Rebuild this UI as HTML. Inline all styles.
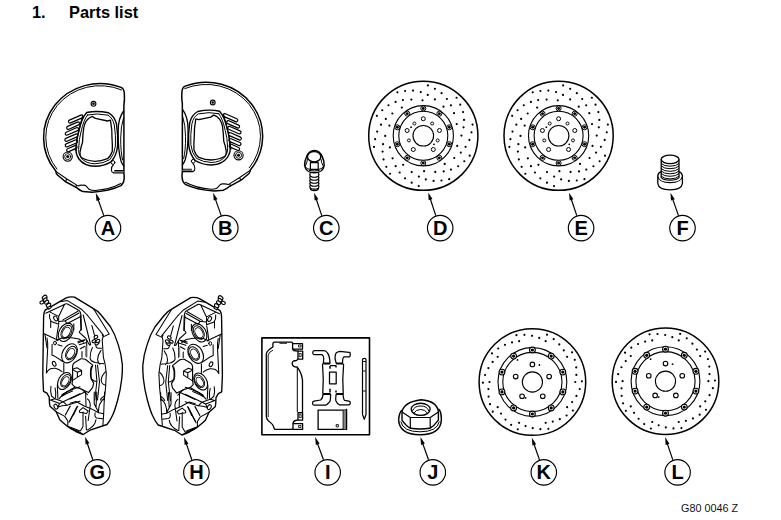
<!DOCTYPE html>
<html><head><meta charset="utf-8">
<style>
html,body{margin:0;padding:0;background:#fff;width:781px;height:520px;overflow:hidden;}
body{position:relative;font-family:"Liberation Sans",sans-serif;color:#000;}
.t{position:absolute;font-weight:bold;font-size:16.4px;line-height:1;white-space:nowrap;}
.code{position:absolute;font-size:10.8px;line-height:1;white-space:nowrap;color:#111;}
svg{position:absolute;left:0;top:0;}
</style></head><body>
<div class="t" style="left:32px;top:4px;">1.</div>
<div class="t" style="left:69px;top:4px;">Parts list</div>
<div class="code" style="left:681px;top:502.5px;">G80 0046 Z</div>
<svg width="781" height="520" viewBox="0 0 781 520">
<g fill="none" stroke="#000" stroke-width="1.15">
<circle cx="108" cy="228.1" r="12.75"/>
<circle cx="225.3" cy="228.1" r="12.75"/>
<circle cx="326.3" cy="228.1" r="12.75"/>
<circle cx="440.2" cy="228.1" r="12.75"/>
<circle cx="581.1" cy="228.1" r="12.75"/>
<circle cx="682.5" cy="228.1" r="12.75"/>
<circle cx="97.3" cy="472.4" r="12.75"/>
<circle cx="196.4" cy="472.4" r="12.75"/>
<circle cx="327.7" cy="472.3" r="12.75"/>
<circle cx="432.8" cy="472.3" r="12.75"/>
<circle cx="543.8" cy="472.3" r="12.75"/>
<circle cx="677.6" cy="472.3" r="12.75"/>
</g>
<g font-family="Liberation Sans" font-weight="bold" font-size="20" text-anchor="middle">
<text x="108" y="235.0">A</text>
<text x="225.3" y="235.0">B</text>
<text x="326.3" y="235.0">C</text>
<text x="440.2" y="235.0">D</text>
<text x="581.1" y="235.0">E</text>
<text x="682.5" y="235.0">F</text>
<text x="97.3" y="479.3">G</text>
<text x="196.4" y="479.3">H</text>
<text x="327.7" y="479.2">I</text>
<text x="432.8" y="479.2">J</text>
<text x="543.8" y="479.2">K</text>
<text x="677.6" y="479.2">L</text>
</g>
<line x1="103.80" y1="215.60" x2="98.01" y2="199.32" stroke="#000" stroke-width="1.2"/><path d="M95.80,193.10L100.23,199.59L96.46,200.93Z" fill="#000"/>
<line x1="221.20" y1="215.60" x2="215.30" y2="198.92" stroke="#000" stroke-width="1.2"/><path d="M213.10,192.70L217.52,199.20L213.75,200.53Z" fill="#000"/>
<line x1="321.80" y1="215.60" x2="316.20" y2="198.96" stroke="#000" stroke-width="1.2"/><path d="M314.10,192.70L318.42,199.27L314.63,200.54Z" fill="#000"/>
<line x1="435.80" y1="215.60" x2="430.26" y2="198.77" stroke="#000" stroke-width="1.2"/><path d="M428.20,192.50L432.48,199.09L428.68,200.34Z" fill="#000"/>
<line x1="576.80" y1="215.60" x2="571.20" y2="198.96" stroke="#000" stroke-width="1.2"/><path d="M569.10,192.70L573.42,199.27L569.63,200.54Z" fill="#000"/>
<line x1="678.50" y1="215.60" x2="672.60" y2="198.92" stroke="#000" stroke-width="1.2"/><path d="M670.40,192.70L674.82,199.20L671.05,200.53Z" fill="#000"/>
<line x1="92.80" y1="459.80" x2="87.19" y2="442.96" stroke="#000" stroke-width="1.2"/><path d="M85.10,436.70L89.40,443.28L85.61,444.54Z" fill="#000"/>
<line x1="191.80" y1="459.80" x2="186.22" y2="443.35" stroke="#000" stroke-width="1.2"/><path d="M184.10,437.10L188.44,443.65L184.65,444.94Z" fill="#000"/>
<line x1="323.50" y1="459.80" x2="317.39" y2="443.29" stroke="#000" stroke-width="1.2"/><path d="M315.10,437.10L319.61,443.53L315.86,444.92Z" fill="#000"/>
<line x1="428.50" y1="459.80" x2="422.62" y2="443.32" stroke="#000" stroke-width="1.2"/><path d="M420.40,437.10L424.84,443.59L421.07,444.93Z" fill="#000"/>
<line x1="539.50" y1="459.90" x2="533.96" y2="443.94" stroke="#000" stroke-width="1.2"/><path d="M531.80,437.70L536.18,444.22L532.40,445.54Z" fill="#000"/>
<line x1="672.80" y1="459.90" x2="667.21" y2="443.35" stroke="#000" stroke-width="1.2"/><path d="M665.10,437.10L669.43,443.66L665.64,444.94Z" fill="#000"/>
<circle cx="423.3" cy="135.75" r="54.6" fill="none" stroke="#000" stroke-width="1.5"/>
<circle cx="423.3" cy="135.75" r="30.1" fill="none" stroke="#000" stroke-width="1.1"/>
<circle cx="423.3" cy="135.75" r="24.5" fill="none" stroke="#000" stroke-width="1.1"/>
<circle cx="423.3" cy="135.75" r="10.3" fill="none" stroke="#000" stroke-width="1.1"/>
<path d="M442.35,106.65a1.1,1.1 0 1,0 2.2,0a1.1,1.1 0 1,0 -2.2,0M433.78,99.45a1.1,1.1 0 1,0 2.2,0a1.1,1.1 0 1,0 -2.2,0M426.64,94.89a1.1,1.1 0 1,0 2.2,0a1.1,1.1 0 1,0 -2.2,0M419.68,92.12a1.1,1.1 0 1,0 2.2,0a1.1,1.1 0 1,0 -2.2,0M411.94,90.60a1.1,1.1 0 1,0 2.2,0a1.1,1.1 0 1,0 -2.2,0M404.03,91.00a1.1,1.1 0 1,0 2.2,0a1.1,1.1 0 1,0 -2.2,0M396.34,92.37a1.1,1.1 0 1,0 2.2,0a1.1,1.1 0 1,0 -2.2,0M421.40,100.36a1.1,1.1 0 1,0 2.2,0a1.1,1.1 0 1,0 -2.2,0M410.24,99.58a1.1,1.1 0 1,0 2.2,0a1.1,1.1 0 1,0 -2.2,0M401.77,100.08a1.1,1.1 0 1,0 2.2,0a1.1,1.1 0 1,0 -2.2,0M394.52,101.93a1.1,1.1 0 1,0 2.2,0a1.1,1.1 0 1,0 -2.2,0M387.36,105.25a1.1,1.1 0 1,0 2.2,0a1.1,1.1 0 1,0 -2.2,0M381.19,110.23a1.1,1.1 0 1,0 2.2,0a1.1,1.1 0 1,0 -2.2,0M375.78,115.86a1.1,1.1 0 1,0 2.2,0a1.1,1.1 0 1,0 -2.2,0M400.75,107.59a1.1,1.1 0 1,0 2.2,0a1.1,1.1 0 1,0 -2.2,0M391.26,113.52a1.1,1.1 0 1,0 2.2,0a1.1,1.1 0 1,0 -2.2,0M384.71,118.90a1.1,1.1 0 1,0 2.2,0a1.1,1.1 0 1,0 -2.2,0M379.93,124.66a1.1,1.1 0 1,0 2.2,0a1.1,1.1 0 1,0 -2.2,0M376.09,131.55a1.1,1.1 0 1,0 2.2,0a1.1,1.1 0 1,0 -2.2,0M374.02,139.20a1.1,1.1 0 1,0 2.2,0a1.1,1.1 0 1,0 -2.2,0M372.95,146.94a1.1,1.1 0 1,0 2.2,0a1.1,1.1 0 1,0 -2.2,0M388.29,125.58a1.1,1.1 0 1,0 2.2,0a1.1,1.1 0 1,0 -2.2,0M384.10,135.95a1.1,1.1 0 1,0 2.2,0a1.1,1.1 0 1,0 -2.2,0M381.97,144.15a1.1,1.1 0 1,0 2.2,0a1.1,1.1 0 1,0 -2.2,0M381.49,151.62a1.1,1.1 0 1,0 2.2,0a1.1,1.1 0 1,0 -2.2,0M382.43,159.46a1.1,1.1 0 1,0 2.2,0a1.1,1.1 0 1,0 -2.2,0M385.25,166.86a1.1,1.1 0 1,0 2.2,0a1.1,1.1 0 1,0 -2.2,0M388.94,173.75a1.1,1.1 0 1,0 2.2,0a1.1,1.1 0 1,0 -2.2,0M388.79,147.45a1.1,1.1 0 1,0 2.2,0a1.1,1.1 0 1,0 -2.2,0M391.49,158.31a1.1,1.1 0 1,0 2.2,0a1.1,1.1 0 1,0 -2.2,0M394.59,166.20a1.1,1.1 0 1,0 2.2,0a1.1,1.1 0 1,0 -2.2,0M398.59,172.52a1.1,1.1 0 1,0 2.2,0a1.1,1.1 0 1,0 -2.2,0M403.96,178.31a1.1,1.1 0 1,0 2.2,0a1.1,1.1 0 1,0 -2.2,0M410.60,182.64a1.1,1.1 0 1,0 2.2,0a1.1,1.1 0 1,0 -2.2,0M417.62,186.04a1.1,1.1 0 1,0 2.2,0a1.1,1.1 0 1,0 -2.2,0M402.05,164.85a1.1,1.1 0 1,0 2.2,0a1.1,1.1 0 1,0 -2.2,0M410.62,172.05a1.1,1.1 0 1,0 2.2,0a1.1,1.1 0 1,0 -2.2,0M417.76,176.61a1.1,1.1 0 1,0 2.2,0a1.1,1.1 0 1,0 -2.2,0M424.72,179.38a1.1,1.1 0 1,0 2.2,0a1.1,1.1 0 1,0 -2.2,0M432.46,180.90a1.1,1.1 0 1,0 2.2,0a1.1,1.1 0 1,0 -2.2,0M440.37,180.50a1.1,1.1 0 1,0 2.2,0a1.1,1.1 0 1,0 -2.2,0M448.06,179.13a1.1,1.1 0 1,0 2.2,0a1.1,1.1 0 1,0 -2.2,0M423.00,171.14a1.1,1.1 0 1,0 2.2,0a1.1,1.1 0 1,0 -2.2,0M434.16,171.92a1.1,1.1 0 1,0 2.2,0a1.1,1.1 0 1,0 -2.2,0M442.63,171.42a1.1,1.1 0 1,0 2.2,0a1.1,1.1 0 1,0 -2.2,0M449.88,169.57a1.1,1.1 0 1,0 2.2,0a1.1,1.1 0 1,0 -2.2,0M457.04,166.25a1.1,1.1 0 1,0 2.2,0a1.1,1.1 0 1,0 -2.2,0M463.21,161.27a1.1,1.1 0 1,0 2.2,0a1.1,1.1 0 1,0 -2.2,0M468.62,155.64a1.1,1.1 0 1,0 2.2,0a1.1,1.1 0 1,0 -2.2,0M443.65,163.91a1.1,1.1 0 1,0 2.2,0a1.1,1.1 0 1,0 -2.2,0M453.14,157.98a1.1,1.1 0 1,0 2.2,0a1.1,1.1 0 1,0 -2.2,0M459.69,152.60a1.1,1.1 0 1,0 2.2,0a1.1,1.1 0 1,0 -2.2,0M464.47,146.84a1.1,1.1 0 1,0 2.2,0a1.1,1.1 0 1,0 -2.2,0M468.31,139.95a1.1,1.1 0 1,0 2.2,0a1.1,1.1 0 1,0 -2.2,0M470.38,132.30a1.1,1.1 0 1,0 2.2,0a1.1,1.1 0 1,0 -2.2,0M471.45,124.56a1.1,1.1 0 1,0 2.2,0a1.1,1.1 0 1,0 -2.2,0M456.11,145.92a1.1,1.1 0 1,0 2.2,0a1.1,1.1 0 1,0 -2.2,0M460.30,135.55a1.1,1.1 0 1,0 2.2,0a1.1,1.1 0 1,0 -2.2,0M462.43,127.35a1.1,1.1 0 1,0 2.2,0a1.1,1.1 0 1,0 -2.2,0M462.91,119.88a1.1,1.1 0 1,0 2.2,0a1.1,1.1 0 1,0 -2.2,0M461.97,112.04a1.1,1.1 0 1,0 2.2,0a1.1,1.1 0 1,0 -2.2,0M459.15,104.64a1.1,1.1 0 1,0 2.2,0a1.1,1.1 0 1,0 -2.2,0M455.46,97.75a1.1,1.1 0 1,0 2.2,0a1.1,1.1 0 1,0 -2.2,0M455.61,124.05a1.1,1.1 0 1,0 2.2,0a1.1,1.1 0 1,0 -2.2,0M452.91,113.19a1.1,1.1 0 1,0 2.2,0a1.1,1.1 0 1,0 -2.2,0M449.81,105.30a1.1,1.1 0 1,0 2.2,0a1.1,1.1 0 1,0 -2.2,0M445.81,98.98a1.1,1.1 0 1,0 2.2,0a1.1,1.1 0 1,0 -2.2,0M440.44,93.19a1.1,1.1 0 1,0 2.2,0a1.1,1.1 0 1,0 -2.2,0M433.80,88.86a1.1,1.1 0 1,0 2.2,0a1.1,1.1 0 1,0 -2.2,0M426.78,85.46a1.1,1.1 0 1,0 2.2,0a1.1,1.1 0 1,0 -2.2,0" fill="#000"/>
<circle cx="423.30" cy="108.45" r="2.5" fill="#fff" stroke="#000" stroke-width="1.0"/>
<circle cx="423.30" cy="108.45" r="1.45" fill="#000"/>
<circle cx="407.25" cy="113.66" r="2.5" fill="#fff" stroke="#000" stroke-width="1.0"/>
<circle cx="407.25" cy="113.66" r="1.45" fill="#000"/>
<circle cx="397.34" cy="127.31" r="2.5" fill="#fff" stroke="#000" stroke-width="1.0"/>
<circle cx="397.34" cy="127.31" r="1.45" fill="#000"/>
<circle cx="397.34" cy="144.19" r="2.5" fill="#fff" stroke="#000" stroke-width="1.0"/>
<circle cx="397.34" cy="144.19" r="1.45" fill="#000"/>
<circle cx="407.25" cy="157.84" r="2.5" fill="#fff" stroke="#000" stroke-width="1.0"/>
<circle cx="407.25" cy="157.84" r="1.45" fill="#000"/>
<circle cx="423.30" cy="163.05" r="2.5" fill="#fff" stroke="#000" stroke-width="1.0"/>
<circle cx="423.30" cy="163.05" r="1.45" fill="#000"/>
<circle cx="439.35" cy="157.84" r="2.5" fill="#fff" stroke="#000" stroke-width="1.0"/>
<circle cx="439.35" cy="157.84" r="1.45" fill="#000"/>
<circle cx="449.26" cy="144.19" r="2.5" fill="#fff" stroke="#000" stroke-width="1.0"/>
<circle cx="449.26" cy="144.19" r="1.45" fill="#000"/>
<circle cx="449.26" cy="127.31" r="2.5" fill="#fff" stroke="#000" stroke-width="1.0"/>
<circle cx="449.26" cy="127.31" r="1.45" fill="#000"/>
<circle cx="439.35" cy="113.66" r="2.5" fill="#fff" stroke="#000" stroke-width="1.0"/>
<circle cx="439.35" cy="113.66" r="1.45" fill="#000"/>
<circle cx="423.30" cy="118.75" r="2.0" fill="none" stroke="#000" stroke-width="1.0"/>
<circle cx="439.47" cy="130.50" r="2.0" fill="none" stroke="#000" stroke-width="1.0"/>
<circle cx="433.29" cy="149.50" r="2.0" fill="none" stroke="#000" stroke-width="1.0"/>
<circle cx="413.31" cy="149.50" r="2.0" fill="none" stroke="#000" stroke-width="1.0"/>
<circle cx="407.13" cy="130.50" r="2.0" fill="none" stroke="#000" stroke-width="1.0"/>
<circle cx="432.18" cy="123.53" r="1.5" fill="none" stroke="#000" stroke-width="0.95"/>
<circle cx="437.66" cy="140.42" r="1.5" fill="none" stroke="#000" stroke-width="0.95"/>
<circle cx="408.94" cy="140.42" r="1.5" fill="none" stroke="#000" stroke-width="0.95"/>
<circle cx="414.42" cy="123.53" r="1.5" fill="none" stroke="#000" stroke-width="0.95"/>
<circle cx="433.95" cy="144.37" r="0.9" fill="#000"/>
<circle cx="411.09" cy="127.20" r="0.9" fill="#000"/>
<circle cx="558.6" cy="135.75" r="54.6" fill="none" stroke="#000" stroke-width="1.5"/>
<circle cx="558.6" cy="135.75" r="30.1" fill="none" stroke="#000" stroke-width="1.1"/>
<circle cx="558.6" cy="135.75" r="24.5" fill="none" stroke="#000" stroke-width="1.1"/>
<circle cx="558.6" cy="135.75" r="10.3" fill="none" stroke="#000" stroke-width="1.1"/>
<path d="M577.65,106.65a1.1,1.1 0 1,0 2.2,0a1.1,1.1 0 1,0 -2.2,0M569.08,99.45a1.1,1.1 0 1,0 2.2,0a1.1,1.1 0 1,0 -2.2,0M561.94,94.89a1.1,1.1 0 1,0 2.2,0a1.1,1.1 0 1,0 -2.2,0M554.98,92.12a1.1,1.1 0 1,0 2.2,0a1.1,1.1 0 1,0 -2.2,0M547.24,90.60a1.1,1.1 0 1,0 2.2,0a1.1,1.1 0 1,0 -2.2,0M539.33,91.00a1.1,1.1 0 1,0 2.2,0a1.1,1.1 0 1,0 -2.2,0M531.64,92.37a1.1,1.1 0 1,0 2.2,0a1.1,1.1 0 1,0 -2.2,0M556.70,100.36a1.1,1.1 0 1,0 2.2,0a1.1,1.1 0 1,0 -2.2,0M545.54,99.58a1.1,1.1 0 1,0 2.2,0a1.1,1.1 0 1,0 -2.2,0M537.07,100.08a1.1,1.1 0 1,0 2.2,0a1.1,1.1 0 1,0 -2.2,0M529.82,101.93a1.1,1.1 0 1,0 2.2,0a1.1,1.1 0 1,0 -2.2,0M522.66,105.25a1.1,1.1 0 1,0 2.2,0a1.1,1.1 0 1,0 -2.2,0M516.49,110.23a1.1,1.1 0 1,0 2.2,0a1.1,1.1 0 1,0 -2.2,0M511.08,115.86a1.1,1.1 0 1,0 2.2,0a1.1,1.1 0 1,0 -2.2,0M536.05,107.59a1.1,1.1 0 1,0 2.2,0a1.1,1.1 0 1,0 -2.2,0M526.56,113.52a1.1,1.1 0 1,0 2.2,0a1.1,1.1 0 1,0 -2.2,0M520.01,118.90a1.1,1.1 0 1,0 2.2,0a1.1,1.1 0 1,0 -2.2,0M515.23,124.66a1.1,1.1 0 1,0 2.2,0a1.1,1.1 0 1,0 -2.2,0M511.39,131.55a1.1,1.1 0 1,0 2.2,0a1.1,1.1 0 1,0 -2.2,0M509.32,139.20a1.1,1.1 0 1,0 2.2,0a1.1,1.1 0 1,0 -2.2,0M508.25,146.94a1.1,1.1 0 1,0 2.2,0a1.1,1.1 0 1,0 -2.2,0M523.59,125.58a1.1,1.1 0 1,0 2.2,0a1.1,1.1 0 1,0 -2.2,0M519.40,135.95a1.1,1.1 0 1,0 2.2,0a1.1,1.1 0 1,0 -2.2,0M517.27,144.15a1.1,1.1 0 1,0 2.2,0a1.1,1.1 0 1,0 -2.2,0M516.79,151.62a1.1,1.1 0 1,0 2.2,0a1.1,1.1 0 1,0 -2.2,0M517.73,159.46a1.1,1.1 0 1,0 2.2,0a1.1,1.1 0 1,0 -2.2,0M520.55,166.86a1.1,1.1 0 1,0 2.2,0a1.1,1.1 0 1,0 -2.2,0M524.24,173.75a1.1,1.1 0 1,0 2.2,0a1.1,1.1 0 1,0 -2.2,0M524.09,147.45a1.1,1.1 0 1,0 2.2,0a1.1,1.1 0 1,0 -2.2,0M526.79,158.31a1.1,1.1 0 1,0 2.2,0a1.1,1.1 0 1,0 -2.2,0M529.89,166.20a1.1,1.1 0 1,0 2.2,0a1.1,1.1 0 1,0 -2.2,0M533.89,172.52a1.1,1.1 0 1,0 2.2,0a1.1,1.1 0 1,0 -2.2,0M539.26,178.31a1.1,1.1 0 1,0 2.2,0a1.1,1.1 0 1,0 -2.2,0M545.90,182.64a1.1,1.1 0 1,0 2.2,0a1.1,1.1 0 1,0 -2.2,0M552.92,186.04a1.1,1.1 0 1,0 2.2,0a1.1,1.1 0 1,0 -2.2,0M537.35,164.85a1.1,1.1 0 1,0 2.2,0a1.1,1.1 0 1,0 -2.2,0M545.92,172.05a1.1,1.1 0 1,0 2.2,0a1.1,1.1 0 1,0 -2.2,0M553.06,176.61a1.1,1.1 0 1,0 2.2,0a1.1,1.1 0 1,0 -2.2,0M560.02,179.38a1.1,1.1 0 1,0 2.2,0a1.1,1.1 0 1,0 -2.2,0M567.76,180.90a1.1,1.1 0 1,0 2.2,0a1.1,1.1 0 1,0 -2.2,0M575.67,180.50a1.1,1.1 0 1,0 2.2,0a1.1,1.1 0 1,0 -2.2,0M583.36,179.13a1.1,1.1 0 1,0 2.2,0a1.1,1.1 0 1,0 -2.2,0M558.30,171.14a1.1,1.1 0 1,0 2.2,0a1.1,1.1 0 1,0 -2.2,0M569.46,171.92a1.1,1.1 0 1,0 2.2,0a1.1,1.1 0 1,0 -2.2,0M577.93,171.42a1.1,1.1 0 1,0 2.2,0a1.1,1.1 0 1,0 -2.2,0M585.18,169.57a1.1,1.1 0 1,0 2.2,0a1.1,1.1 0 1,0 -2.2,0M592.34,166.25a1.1,1.1 0 1,0 2.2,0a1.1,1.1 0 1,0 -2.2,0M598.51,161.27a1.1,1.1 0 1,0 2.2,0a1.1,1.1 0 1,0 -2.2,0M603.92,155.64a1.1,1.1 0 1,0 2.2,0a1.1,1.1 0 1,0 -2.2,0M578.95,163.91a1.1,1.1 0 1,0 2.2,0a1.1,1.1 0 1,0 -2.2,0M588.44,157.98a1.1,1.1 0 1,0 2.2,0a1.1,1.1 0 1,0 -2.2,0M594.99,152.60a1.1,1.1 0 1,0 2.2,0a1.1,1.1 0 1,0 -2.2,0M599.77,146.84a1.1,1.1 0 1,0 2.2,0a1.1,1.1 0 1,0 -2.2,0M603.61,139.95a1.1,1.1 0 1,0 2.2,0a1.1,1.1 0 1,0 -2.2,0M605.68,132.30a1.1,1.1 0 1,0 2.2,0a1.1,1.1 0 1,0 -2.2,0M606.75,124.56a1.1,1.1 0 1,0 2.2,0a1.1,1.1 0 1,0 -2.2,0M591.41,145.92a1.1,1.1 0 1,0 2.2,0a1.1,1.1 0 1,0 -2.2,0M595.60,135.55a1.1,1.1 0 1,0 2.2,0a1.1,1.1 0 1,0 -2.2,0M597.73,127.35a1.1,1.1 0 1,0 2.2,0a1.1,1.1 0 1,0 -2.2,0M598.21,119.88a1.1,1.1 0 1,0 2.2,0a1.1,1.1 0 1,0 -2.2,0M597.27,112.04a1.1,1.1 0 1,0 2.2,0a1.1,1.1 0 1,0 -2.2,0M594.45,104.64a1.1,1.1 0 1,0 2.2,0a1.1,1.1 0 1,0 -2.2,0M590.76,97.75a1.1,1.1 0 1,0 2.2,0a1.1,1.1 0 1,0 -2.2,0M590.91,124.05a1.1,1.1 0 1,0 2.2,0a1.1,1.1 0 1,0 -2.2,0M588.21,113.19a1.1,1.1 0 1,0 2.2,0a1.1,1.1 0 1,0 -2.2,0M585.11,105.30a1.1,1.1 0 1,0 2.2,0a1.1,1.1 0 1,0 -2.2,0M581.11,98.98a1.1,1.1 0 1,0 2.2,0a1.1,1.1 0 1,0 -2.2,0M575.74,93.19a1.1,1.1 0 1,0 2.2,0a1.1,1.1 0 1,0 -2.2,0M569.10,88.86a1.1,1.1 0 1,0 2.2,0a1.1,1.1 0 1,0 -2.2,0M562.08,85.46a1.1,1.1 0 1,0 2.2,0a1.1,1.1 0 1,0 -2.2,0" fill="#000"/>
<circle cx="558.60" cy="108.45" r="2.5" fill="#fff" stroke="#000" stroke-width="1.0"/>
<circle cx="558.60" cy="108.45" r="1.45" fill="#000"/>
<circle cx="542.55" cy="113.66" r="2.5" fill="#fff" stroke="#000" stroke-width="1.0"/>
<circle cx="542.55" cy="113.66" r="1.45" fill="#000"/>
<circle cx="532.64" cy="127.31" r="2.5" fill="#fff" stroke="#000" stroke-width="1.0"/>
<circle cx="532.64" cy="127.31" r="1.45" fill="#000"/>
<circle cx="532.64" cy="144.19" r="2.5" fill="#fff" stroke="#000" stroke-width="1.0"/>
<circle cx="532.64" cy="144.19" r="1.45" fill="#000"/>
<circle cx="542.55" cy="157.84" r="2.5" fill="#fff" stroke="#000" stroke-width="1.0"/>
<circle cx="542.55" cy="157.84" r="1.45" fill="#000"/>
<circle cx="558.60" cy="163.05" r="2.5" fill="#fff" stroke="#000" stroke-width="1.0"/>
<circle cx="558.60" cy="163.05" r="1.45" fill="#000"/>
<circle cx="574.65" cy="157.84" r="2.5" fill="#fff" stroke="#000" stroke-width="1.0"/>
<circle cx="574.65" cy="157.84" r="1.45" fill="#000"/>
<circle cx="584.56" cy="144.19" r="2.5" fill="#fff" stroke="#000" stroke-width="1.0"/>
<circle cx="584.56" cy="144.19" r="1.45" fill="#000"/>
<circle cx="584.56" cy="127.31" r="2.5" fill="#fff" stroke="#000" stroke-width="1.0"/>
<circle cx="584.56" cy="127.31" r="1.45" fill="#000"/>
<circle cx="574.65" cy="113.66" r="2.5" fill="#fff" stroke="#000" stroke-width="1.0"/>
<circle cx="574.65" cy="113.66" r="1.45" fill="#000"/>
<circle cx="558.60" cy="118.75" r="2.0" fill="none" stroke="#000" stroke-width="1.0"/>
<circle cx="574.77" cy="130.50" r="2.0" fill="none" stroke="#000" stroke-width="1.0"/>
<circle cx="568.59" cy="149.50" r="2.0" fill="none" stroke="#000" stroke-width="1.0"/>
<circle cx="548.61" cy="149.50" r="2.0" fill="none" stroke="#000" stroke-width="1.0"/>
<circle cx="542.43" cy="130.50" r="2.0" fill="none" stroke="#000" stroke-width="1.0"/>
<circle cx="567.48" cy="123.53" r="1.5" fill="none" stroke="#000" stroke-width="0.95"/>
<circle cx="572.96" cy="140.42" r="1.5" fill="none" stroke="#000" stroke-width="0.95"/>
<circle cx="544.24" cy="140.42" r="1.5" fill="none" stroke="#000" stroke-width="0.95"/>
<circle cx="549.72" cy="123.53" r="1.5" fill="none" stroke="#000" stroke-width="0.95"/>
<circle cx="569.25" cy="144.37" r="0.9" fill="#000"/>
<circle cx="546.39" cy="127.20" r="0.9" fill="#000"/>
<circle cx="532.4" cy="382.0" r="53.3" fill="none" stroke="#000" stroke-width="1.5"/>
<circle cx="532.4" cy="382.0" r="34.4" fill="none" stroke="#000" stroke-width="1.1"/>
<circle cx="532.4" cy="382.0" r="29.6" fill="none" stroke="#000" stroke-width="1.1"/>
<circle cx="532.4" cy="382.0" r="10.1" fill="none" stroke="#000" stroke-width="1.1"/>
<path d="M544.56,341.20a1.1,1.1 0 1,0 2.2,0a1.1,1.1 0 1,0 -2.2,0M538.12,337.97a1.1,1.1 0 1,0 2.2,0a1.1,1.1 0 1,0 -2.2,0M530.98,335.80a1.1,1.1 0 1,0 2.2,0a1.1,1.1 0 1,0 -2.2,0M523.32,334.82a1.1,1.1 0 1,0 2.2,0a1.1,1.1 0 1,0 -2.2,0M515.35,335.14a1.1,1.1 0 1,0 2.2,0a1.1,1.1 0 1,0 -2.2,0M518.04,341.20a1.1,1.1 0 1,0 2.2,0a1.1,1.1 0 1,0 -2.2,0M510.94,342.38a1.1,1.1 0 1,0 2.2,0a1.1,1.1 0 1,0 -2.2,0M503.88,344.81a1.1,1.1 0 1,0 2.2,0a1.1,1.1 0 1,0 -2.2,0M497.11,348.52a1.1,1.1 0 1,0 2.2,0a1.1,1.1 0 1,0 -2.2,0M490.85,353.47a1.1,1.1 0 1,0 2.2,0a1.1,1.1 0 1,0 -2.2,0M496.59,356.78a1.1,1.1 0 1,0 2.2,0a1.1,1.1 0 1,0 -2.2,0M491.54,361.91a1.1,1.1 0 1,0 2.2,0a1.1,1.1 0 1,0 -2.2,0M487.26,368.03a1.1,1.1 0 1,0 2.2,0a1.1,1.1 0 1,0 -2.2,0M483.96,375.01a1.1,1.1 0 1,0 2.2,0a1.1,1.1 0 1,0 -2.2,0M481.80,382.69a1.1,1.1 0 1,0 2.2,0a1.1,1.1 0 1,0 -2.2,0M488.40,382.00a1.1,1.1 0 1,0 2.2,0a1.1,1.1 0 1,0 -2.2,0M487.32,389.12a1.1,1.1 0 1,0 2.2,0a1.1,1.1 0 1,0 -2.2,0M487.46,396.58a1.1,1.1 0 1,0 2.2,0a1.1,1.1 0 1,0 -2.2,0M488.90,404.17a1.1,1.1 0 1,0 2.2,0a1.1,1.1 0 1,0 -2.2,0M491.66,411.65a1.1,1.1 0 1,0 2.2,0a1.1,1.1 0 1,0 -2.2,0M496.59,407.22a1.1,1.1 0 1,0 2.2,0a1.1,1.1 0 1,0 -2.2,0M499.91,413.61a1.1,1.1 0 1,0 2.2,0a1.1,1.1 0 1,0 -2.2,0M504.41,419.57a1.1,1.1 0 1,0 2.2,0a1.1,1.1 0 1,0 -2.2,0M510.02,424.86a1.1,1.1 0 1,0 2.2,0a1.1,1.1 0 1,0 -2.2,0M516.66,429.29a1.1,1.1 0 1,0 2.2,0a1.1,1.1 0 1,0 -2.2,0M518.04,422.80a1.1,1.1 0 1,0 2.2,0a1.1,1.1 0 1,0 -2.2,0M524.48,426.03a1.1,1.1 0 1,0 2.2,0a1.1,1.1 0 1,0 -2.2,0M531.62,428.20a1.1,1.1 0 1,0 2.2,0a1.1,1.1 0 1,0 -2.2,0M539.28,429.18a1.1,1.1 0 1,0 2.2,0a1.1,1.1 0 1,0 -2.2,0M547.25,428.86a1.1,1.1 0 1,0 2.2,0a1.1,1.1 0 1,0 -2.2,0M544.56,422.80a1.1,1.1 0 1,0 2.2,0a1.1,1.1 0 1,0 -2.2,0M551.66,421.62a1.1,1.1 0 1,0 2.2,0a1.1,1.1 0 1,0 -2.2,0M558.72,419.19a1.1,1.1 0 1,0 2.2,0a1.1,1.1 0 1,0 -2.2,0M565.49,415.48a1.1,1.1 0 1,0 2.2,0a1.1,1.1 0 1,0 -2.2,0M571.75,410.53a1.1,1.1 0 1,0 2.2,0a1.1,1.1 0 1,0 -2.2,0M566.01,407.22a1.1,1.1 0 1,0 2.2,0a1.1,1.1 0 1,0 -2.2,0M571.06,402.09a1.1,1.1 0 1,0 2.2,0a1.1,1.1 0 1,0 -2.2,0M575.34,395.97a1.1,1.1 0 1,0 2.2,0a1.1,1.1 0 1,0 -2.2,0M578.64,388.99a1.1,1.1 0 1,0 2.2,0a1.1,1.1 0 1,0 -2.2,0M580.80,381.31a1.1,1.1 0 1,0 2.2,0a1.1,1.1 0 1,0 -2.2,0M574.20,382.00a1.1,1.1 0 1,0 2.2,0a1.1,1.1 0 1,0 -2.2,0M575.28,374.88a1.1,1.1 0 1,0 2.2,0a1.1,1.1 0 1,0 -2.2,0M575.14,367.42a1.1,1.1 0 1,0 2.2,0a1.1,1.1 0 1,0 -2.2,0M573.70,359.83a1.1,1.1 0 1,0 2.2,0a1.1,1.1 0 1,0 -2.2,0M570.94,352.35a1.1,1.1 0 1,0 2.2,0a1.1,1.1 0 1,0 -2.2,0M566.01,356.78a1.1,1.1 0 1,0 2.2,0a1.1,1.1 0 1,0 -2.2,0M562.69,350.39a1.1,1.1 0 1,0 2.2,0a1.1,1.1 0 1,0 -2.2,0M558.19,344.43a1.1,1.1 0 1,0 2.2,0a1.1,1.1 0 1,0 -2.2,0M552.58,339.14a1.1,1.1 0 1,0 2.2,0a1.1,1.1 0 1,0 -2.2,0M545.94,334.71a1.1,1.1 0 1,0 2.2,0a1.1,1.1 0 1,0 -2.2,0" fill="#000"/>
<circle cx="532.40" cy="350.00" r="2.9" fill="#fff" stroke="#000" stroke-width="1.1"/>
<circle cx="532.40" cy="350.00" r="1.6" fill="#000"/>
<circle cx="513.59" cy="356.11" r="2.9" fill="#fff" stroke="#000" stroke-width="1.1"/>
<circle cx="513.59" cy="356.11" r="1.6" fill="#000"/>
<circle cx="501.97" cy="372.11" r="2.9" fill="#fff" stroke="#000" stroke-width="1.1"/>
<circle cx="501.97" cy="372.11" r="1.6" fill="#000"/>
<circle cx="501.97" cy="391.89" r="2.9" fill="#fff" stroke="#000" stroke-width="1.1"/>
<circle cx="501.97" cy="391.89" r="1.6" fill="#000"/>
<circle cx="513.59" cy="407.89" r="2.9" fill="#fff" stroke="#000" stroke-width="1.1"/>
<circle cx="513.59" cy="407.89" r="1.6" fill="#000"/>
<circle cx="532.40" cy="414.00" r="2.9" fill="#fff" stroke="#000" stroke-width="1.1"/>
<circle cx="532.40" cy="414.00" r="1.6" fill="#000"/>
<circle cx="551.21" cy="407.89" r="2.9" fill="#fff" stroke="#000" stroke-width="1.1"/>
<circle cx="551.21" cy="407.89" r="1.6" fill="#000"/>
<circle cx="562.83" cy="391.89" r="2.9" fill="#fff" stroke="#000" stroke-width="1.1"/>
<circle cx="562.83" cy="391.89" r="1.6" fill="#000"/>
<circle cx="562.83" cy="372.11" r="2.9" fill="#fff" stroke="#000" stroke-width="1.1"/>
<circle cx="562.83" cy="372.11" r="1.6" fill="#000"/>
<circle cx="551.21" cy="356.11" r="2.9" fill="#fff" stroke="#000" stroke-width="1.1"/>
<circle cx="551.21" cy="356.11" r="1.6" fill="#000"/>
<circle cx="532.40" cy="364.40" r="2.3" fill="none" stroke="#000" stroke-width="1.1"/>
<circle cx="549.14" cy="376.56" r="2.3" fill="none" stroke="#000" stroke-width="1.1"/>
<circle cx="542.75" cy="396.24" r="2.3" fill="none" stroke="#000" stroke-width="1.1"/>
<circle cx="522.05" cy="396.24" r="2.3" fill="none" stroke="#000" stroke-width="1.1"/>
<circle cx="515.66" cy="376.56" r="2.3" fill="none" stroke="#000" stroke-width="1.1"/>
<circle cx="539.41" cy="364.99" r="0.9" fill="#000"/>
<circle cx="525.64" cy="397.92" r="0.9" fill="#000"/>
<circle cx="517.53" cy="359.95" r="0.9" fill="#000"/>
<circle cx="665.5" cy="381.2" r="53.3" fill="none" stroke="#000" stroke-width="1.5"/>
<circle cx="665.5" cy="381.2" r="34.4" fill="none" stroke="#000" stroke-width="1.1"/>
<circle cx="665.5" cy="381.2" r="29.6" fill="none" stroke="#000" stroke-width="1.1"/>
<circle cx="665.5" cy="381.2" r="10.1" fill="none" stroke="#000" stroke-width="1.1"/>
<path d="M677.66,340.40a1.1,1.1 0 1,0 2.2,0a1.1,1.1 0 1,0 -2.2,0M671.22,337.17a1.1,1.1 0 1,0 2.2,0a1.1,1.1 0 1,0 -2.2,0M664.08,335.00a1.1,1.1 0 1,0 2.2,0a1.1,1.1 0 1,0 -2.2,0M656.42,334.02a1.1,1.1 0 1,0 2.2,0a1.1,1.1 0 1,0 -2.2,0M648.45,334.34a1.1,1.1 0 1,0 2.2,0a1.1,1.1 0 1,0 -2.2,0M651.14,340.40a1.1,1.1 0 1,0 2.2,0a1.1,1.1 0 1,0 -2.2,0M644.04,341.58a1.1,1.1 0 1,0 2.2,0a1.1,1.1 0 1,0 -2.2,0M636.98,344.01a1.1,1.1 0 1,0 2.2,0a1.1,1.1 0 1,0 -2.2,0M630.21,347.72a1.1,1.1 0 1,0 2.2,0a1.1,1.1 0 1,0 -2.2,0M623.95,352.67a1.1,1.1 0 1,0 2.2,0a1.1,1.1 0 1,0 -2.2,0M629.69,355.98a1.1,1.1 0 1,0 2.2,0a1.1,1.1 0 1,0 -2.2,0M624.64,361.11a1.1,1.1 0 1,0 2.2,0a1.1,1.1 0 1,0 -2.2,0M620.36,367.23a1.1,1.1 0 1,0 2.2,0a1.1,1.1 0 1,0 -2.2,0M617.06,374.21a1.1,1.1 0 1,0 2.2,0a1.1,1.1 0 1,0 -2.2,0M614.90,381.89a1.1,1.1 0 1,0 2.2,0a1.1,1.1 0 1,0 -2.2,0M621.50,381.20a1.1,1.1 0 1,0 2.2,0a1.1,1.1 0 1,0 -2.2,0M620.42,388.32a1.1,1.1 0 1,0 2.2,0a1.1,1.1 0 1,0 -2.2,0M620.56,395.78a1.1,1.1 0 1,0 2.2,0a1.1,1.1 0 1,0 -2.2,0M622.00,403.37a1.1,1.1 0 1,0 2.2,0a1.1,1.1 0 1,0 -2.2,0M624.76,410.85a1.1,1.1 0 1,0 2.2,0a1.1,1.1 0 1,0 -2.2,0M629.69,406.42a1.1,1.1 0 1,0 2.2,0a1.1,1.1 0 1,0 -2.2,0M633.01,412.81a1.1,1.1 0 1,0 2.2,0a1.1,1.1 0 1,0 -2.2,0M637.51,418.77a1.1,1.1 0 1,0 2.2,0a1.1,1.1 0 1,0 -2.2,0M643.12,424.06a1.1,1.1 0 1,0 2.2,0a1.1,1.1 0 1,0 -2.2,0M649.76,428.49a1.1,1.1 0 1,0 2.2,0a1.1,1.1 0 1,0 -2.2,0M651.14,422.00a1.1,1.1 0 1,0 2.2,0a1.1,1.1 0 1,0 -2.2,0M657.58,425.23a1.1,1.1 0 1,0 2.2,0a1.1,1.1 0 1,0 -2.2,0M664.72,427.40a1.1,1.1 0 1,0 2.2,0a1.1,1.1 0 1,0 -2.2,0M672.38,428.38a1.1,1.1 0 1,0 2.2,0a1.1,1.1 0 1,0 -2.2,0M680.35,428.06a1.1,1.1 0 1,0 2.2,0a1.1,1.1 0 1,0 -2.2,0M677.66,422.00a1.1,1.1 0 1,0 2.2,0a1.1,1.1 0 1,0 -2.2,0M684.76,420.82a1.1,1.1 0 1,0 2.2,0a1.1,1.1 0 1,0 -2.2,0M691.82,418.39a1.1,1.1 0 1,0 2.2,0a1.1,1.1 0 1,0 -2.2,0M698.59,414.68a1.1,1.1 0 1,0 2.2,0a1.1,1.1 0 1,0 -2.2,0M704.85,409.73a1.1,1.1 0 1,0 2.2,0a1.1,1.1 0 1,0 -2.2,0M699.11,406.42a1.1,1.1 0 1,0 2.2,0a1.1,1.1 0 1,0 -2.2,0M704.16,401.29a1.1,1.1 0 1,0 2.2,0a1.1,1.1 0 1,0 -2.2,0M708.44,395.17a1.1,1.1 0 1,0 2.2,0a1.1,1.1 0 1,0 -2.2,0M711.74,388.19a1.1,1.1 0 1,0 2.2,0a1.1,1.1 0 1,0 -2.2,0M713.90,380.51a1.1,1.1 0 1,0 2.2,0a1.1,1.1 0 1,0 -2.2,0M707.30,381.20a1.1,1.1 0 1,0 2.2,0a1.1,1.1 0 1,0 -2.2,0M708.38,374.08a1.1,1.1 0 1,0 2.2,0a1.1,1.1 0 1,0 -2.2,0M708.24,366.62a1.1,1.1 0 1,0 2.2,0a1.1,1.1 0 1,0 -2.2,0M706.80,359.03a1.1,1.1 0 1,0 2.2,0a1.1,1.1 0 1,0 -2.2,0M704.04,351.55a1.1,1.1 0 1,0 2.2,0a1.1,1.1 0 1,0 -2.2,0M699.11,355.98a1.1,1.1 0 1,0 2.2,0a1.1,1.1 0 1,0 -2.2,0M695.79,349.59a1.1,1.1 0 1,0 2.2,0a1.1,1.1 0 1,0 -2.2,0M691.29,343.63a1.1,1.1 0 1,0 2.2,0a1.1,1.1 0 1,0 -2.2,0M685.68,338.34a1.1,1.1 0 1,0 2.2,0a1.1,1.1 0 1,0 -2.2,0M679.04,333.91a1.1,1.1 0 1,0 2.2,0a1.1,1.1 0 1,0 -2.2,0" fill="#000"/>
<circle cx="665.50" cy="349.20" r="2.9" fill="#fff" stroke="#000" stroke-width="1.1"/>
<circle cx="665.50" cy="349.20" r="1.6" fill="#000"/>
<circle cx="646.69" cy="355.31" r="2.9" fill="#fff" stroke="#000" stroke-width="1.1"/>
<circle cx="646.69" cy="355.31" r="1.6" fill="#000"/>
<circle cx="635.07" cy="371.31" r="2.9" fill="#fff" stroke="#000" stroke-width="1.1"/>
<circle cx="635.07" cy="371.31" r="1.6" fill="#000"/>
<circle cx="635.07" cy="391.09" r="2.9" fill="#fff" stroke="#000" stroke-width="1.1"/>
<circle cx="635.07" cy="391.09" r="1.6" fill="#000"/>
<circle cx="646.69" cy="407.09" r="2.9" fill="#fff" stroke="#000" stroke-width="1.1"/>
<circle cx="646.69" cy="407.09" r="1.6" fill="#000"/>
<circle cx="665.50" cy="413.20" r="2.9" fill="#fff" stroke="#000" stroke-width="1.1"/>
<circle cx="665.50" cy="413.20" r="1.6" fill="#000"/>
<circle cx="684.31" cy="407.09" r="2.9" fill="#fff" stroke="#000" stroke-width="1.1"/>
<circle cx="684.31" cy="407.09" r="1.6" fill="#000"/>
<circle cx="695.93" cy="391.09" r="2.9" fill="#fff" stroke="#000" stroke-width="1.1"/>
<circle cx="695.93" cy="391.09" r="1.6" fill="#000"/>
<circle cx="695.93" cy="371.31" r="2.9" fill="#fff" stroke="#000" stroke-width="1.1"/>
<circle cx="695.93" cy="371.31" r="1.6" fill="#000"/>
<circle cx="684.31" cy="355.31" r="2.9" fill="#fff" stroke="#000" stroke-width="1.1"/>
<circle cx="684.31" cy="355.31" r="1.6" fill="#000"/>
<circle cx="665.50" cy="363.60" r="2.3" fill="none" stroke="#000" stroke-width="1.1"/>
<circle cx="682.24" cy="375.76" r="2.3" fill="none" stroke="#000" stroke-width="1.1"/>
<circle cx="675.85" cy="395.44" r="2.3" fill="none" stroke="#000" stroke-width="1.1"/>
<circle cx="655.15" cy="395.44" r="2.3" fill="none" stroke="#000" stroke-width="1.1"/>
<circle cx="648.76" cy="375.76" r="2.3" fill="none" stroke="#000" stroke-width="1.1"/>
<circle cx="672.51" cy="364.19" r="0.9" fill="#000"/>
<circle cx="658.74" cy="397.12" r="0.9" fill="#000"/>
<circle cx="650.63" cy="359.15" r="0.9" fill="#000"/>
<!-- C bolt -->
<g fill="none" stroke="#000" stroke-width="1.3" stroke-linejoin="round">
<path d="M310.3,173.2Q309.3,174.7 310.3,176.2Q309.3,177.7 310.3,179.2Q309.3,180.7 310.3,182.2Q309.3,183.7 310.3,185.2Q309.3,186.7 310.3,188.2Q310.3,190.5 314.3,190.5Q318.4,190.5 318.4,188.2Q319.4,186.7 318.4,185.2Q319.4,183.7 318.4,182.2Q319.4,180.7 318.4,179.2Q319.4,177.7 318.4,176.2Q319.4,174.7 318.4,173.2" fill="#fff"/>
<path d="M310.3,176.2Q314.3,178.4 318.4,176.2M310.3,179.2Q314.3,181.4 318.4,179.2M310.3,182.2Q314.3,184.4 318.4,182.2M310.3,185.2Q314.3,187.4 318.4,185.2M310.3,188.2Q314.3,190 318.4,188.2" stroke-width="1.05"/>
<path d="M304.6,165.5Q304.8,160 306.5,157Q309,150.6 314.4,150.6Q319.8,150.6 322.3,157Q324.2,160 324.2,165.5Q323,172.8 314.4,172.8Q305.8,172.8 304.6,165.5Z" fill="#fff" stroke-width="1.5"/>
<ellipse cx="314.15" cy="156.7" rx="6.65" ry="5.2" stroke-width="1.3"/>
<path d="M310.4,162.7H318.2V169.4H310.4Z" stroke-width="1.2"/>
<path d="M307.6,158.5Q307,163 305.2,166.5Q307,169.5 310.4,169.4M320.8,158.5Q321.4,163 323.4,166.5Q321.4,169.5 318.2,169.4" stroke-width="1"/>
<path d="M308.9,170.4Q314.3,171.6 319.6,170.4" stroke-width="1"/>
</g>
<!-- F plug -->
<g fill="none" stroke="#000" stroke-width="1.3">
<path d="M657.8,175.5V183.5Q658.5,189.8 670.1,189.8Q681.7,189.8 682.4,183.5V175.5Q681.5,172 679,171.8H661.2Q658.5,172 657.8,175.5Z" fill="#fff"/>
<path d="M657.8,176.5Q659,182.6 670.1,182.6Q681.2,182.6 682.4,176.5" stroke-width="1.1"/>
<path d="M661.2,159.35V177.5Q663,180.2 670.1,180.2Q677.2,180.2 679,177.5V159.35" fill="#fff"/>
<ellipse cx="670.1" cy="159.35" rx="8.9" ry="4.25" fill="#fff"/>
<path d="M661.3,163.5Q664,166.2 670.1,166.2Q676.2,166.2 678.9,163.5M661.3,166Q664,168.7 670.1,168.7Q676.2,168.7 678.9,166M661.3,168.6Q664,171.3 670.1,171.3Q676.2,171.3 678.9,168.6M661.3,171.1Q664,173.8 670.1,173.8Q676.2,173.8 678.9,171.1M661.3,173.6Q664,176.3 670.1,176.3Q676.2,176.3 678.9,173.6M661.3,176.2Q664,178.9 670.1,178.9Q676.2,178.9 678.9,176.2" stroke-width="1"/>
</g>
<!-- J nut -->
<g fill="none" stroke="#000" stroke-width="1.3" stroke-linejoin="round">
<path d="M398.6,419.3Q399,434.8 420,434.8Q441,434.8 441.4,419.3Q441,410 438.4,409" fill="#fff" stroke-width="1.5"/>
<path d="M400.8,421.5Q403,431.8 420,431.8Q437,431.8 439.3,421.5" stroke-width="1"/>
<path d="M398.6,419.3Q399.5,412 402,410" stroke-width="1.5"/>
<path d="M402,411.9Q404,402 421.1,399.8Q437,401 438.4,411.9V420.1Q434,426 429.8,428.3Q420,429.8 410.6,428.3Q406,426 402,420.1Z" fill="#fff" stroke-width="1.4"/>
<path d="M402,411.9L410.3,417.5H430.2L438.4,411.9M410.3,417.5V428.3M430.2,417.5V428.3" stroke-width="1.2"/>
<ellipse cx="420.65" cy="409.3" rx="9.5" ry="6.05" stroke-width="1.3"/>
<path d="M412.5,411Q414,406 420.65,406Q427.3,406 428.8,411M413.8,413.2Q416,409.5 420.65,409.5Q425.3,409.5 427.5,413.2" stroke-width="1"/>
</g>
<!-- I pad kit -->
<g fill="none" stroke="#000" stroke-width="1.4" stroke-linejoin="round">
<rect x="261.9" y="337.9" width="107.6" height="96.8" stroke-width="1.6"/>
<!-- pad -->
<path d="M272.9,347V343.5Q273.2,342.2 274.5,342.2H291.5Q292.6,342.2 292.6,343.5V349Q293,351 298,351V358.5Q297.5,360 296.5,360.5Q292,360.5 292.2,363.8Q292.6,366.8 297,367Q301.5,372 302.5,380V412.6H298V420Q293,420.5 293,423.6V428.2Q292.6,429.4 291.5,429.4H275.5Q274.3,429.4 274,428Q273.2,424 268.5,421Q266.3,419 266.3,416V354Q266.8,350.5 272.9,347Z" stroke-width="1.3"/>
<path d="M268.2,417V355Q269,351.8 273,350.2" stroke-width="0.9"/>
<path d="M279.5,343.3H287" stroke-width="0.9"/>
<path d="M297.3,368V412" stroke-width="1"/>
<path d="M292.6,343.6H302.5V349.2H292.6M298,351.2H302.7V359.2H298M293,423.6H302.6V429.4H292.8M298,412.6H302.6V420.2H298" stroke-width="1.3"/>
<rect x="298.5" y="345" width="2.5" height="2" stroke-width="0.8"/>
<rect x="299.2" y="353.5" width="2" height="3" stroke-width="0.8"/>
<rect x="299.2" y="414.6" width="2" height="3" stroke-width="0.8"/>
<rect x="298.5" y="425.5" width="2.5" height="2" stroke-width="0.8"/>
<!-- clip -->
<path d="M330,363.5Q329.8,356 327.5,353Q326,350.6 324,350.6H314.2Q312.8,350.8 312.8,352.4V353.3Q312.9,354.5 314,354.5H321.9Q323.6,355.5 323.8,358.8L323.3,363.5" stroke-width="1.25"/>
<path d="M342.6,363.5Q342.3,358 343.8,356.9H349.3Q350.2,356.7 350.2,355.6V353.3Q350.1,352.3 349,352.4L340,351.3Q337.3,351.6 336.1,353Q334.8,355 335,358.5L336.3,363.6" stroke-width="1.25"/>
<path d="M323.1,363.8Q322,364.5 322.6,366Q323.8,378 322.8,392.6Q322.6,393.5 323.3,394M343.1,363.8Q344,364.8 343.5,366Q342.3,378 343.2,392.6Q343.4,393.5 342.8,394M330,365.7H336.3" stroke-width="1.25"/>
<path d="M323.2,363.6H330.2M336.1,363.6H343.1M323.2,393.9H330.6M336.2,393.9H343.1" stroke-width="2"/>
<path d="M330,366V368.8M336,365.8V367.6M330,388.8V392.6M336,390.5V392.6" stroke-width="1.5"/>
<rect x="329.5" y="372" width="6.7" height="11.8" stroke-width="1.25"/>
<path d="M323.1,394Q322.8,398.5 320.6,400L314,401.2Q312.6,401.6 312.6,403V404Q312.8,405.2 314,405.2H325.6Q326.8,405 330,401.4Q330.8,398 330.6,394" stroke-width="1.25"/>
<path d="M336.2,393.8Q335.4,399.5 336,401Q337.5,404.5 339.4,404.9L349,404.8Q350.2,404.6 350.2,403.4V402.4Q350.1,401.3 349,401.2L344.6,400.4Q343.2,399 343.1,394" stroke-width="1.25"/>
<!-- shim -->
<path d="M318.1,410.2H346.5V429.4H318.1Z" stroke-width="1.3"/>
<path d="M343.2,410.5V429.2" stroke-width="1.1"/>
<rect x="343.8" y="410.5" width="2.2" height="18.8" fill="#888" stroke="none"/>
<path d="M346.5,408.8V429.4" stroke-width="1.2"/>
<rect x="336.2" y="424.6" width="2.2" height="2.2" stroke-width="0.9"/>
<!-- pin -->
<path d="M362.5,359.5Q362.5,358.3 364.3,358.3Q366,358.3 366,359.5V414.5L364.3,419.3L362.5,414.5Z" stroke-width="1.2"/>
<path d="M362.6,361.5H366M362.6,371H366M362.6,391H366" stroke-width="0.9"/>
</g>
<!-- A dust shield -->
<g id="shA" fill="none" stroke="#000" stroke-linejoin="round" stroke-linecap="round">
<path d="M123.9,173.5V105Q124.8,100 124.3,93Q124,88.5 121,87.4A56.5,54 0 0,0 55.8,171.1Q56,173.5 57.5,175L65.2,181.5L76.6,187.6Q80,190.6 83,191.6L92.1,192.3Q110,191 121,185.6Q124.6,182.5 124.2,176Z" fill="#fff" stroke-width="1.5"/>
<path d="M121.5,89.9A54.3,51.8 0 0,0 57,169.1" stroke-width="1"/>
<path d="M55.8,171.4L66.5,178.8L78,185.9Q80,185 82.7,185.2Q85,185 86,185.9L89.4,189.6Q92,190.6 95,190.5Q110,189.6 120.8,183.6M66.5,178.8L65.8,181.2M76.2,185.5L76,187.4" stroke-width="1.1"/>
<!-- lens flange -->
<path d="M123.6,111Q118.4,118 118.2,130Q117.8,150 121,161Q122.3,164.5 123.8,166" stroke-width="1.3"/>
<path d="M123.5,118Q120.8,126 120.7,138Q120.6,152 122.6,160" stroke-width="1"/>
<!-- window frame -->
<path d="M86.7,112.5Q97,110.3 108.5,112.8Q114.5,116 116.5,124Q118.3,136 117.6,146Q116.5,156 111,161.8Q104,166 95,166.3Q84,166 79,159Q75.5,154 76.2,149Q76.5,138 78.8,131.2Q81.5,118 86.7,112.5Z" stroke-width="1.4"/>
<path d="M87.5,115Q97,112.8 108,115.2Q112.8,118 114.3,125Q116,136 115.4,146Q114.5,154.5 109.8,159.6Q103.5,163.5 95,163.8Q85.5,163.5 81,157.8Q78.3,154 78.6,149.5Q78.9,138.5 81,132Q83.5,120 87.5,115Z" stroke-width="1"/>
<path d="M89.2,118L92.5,116.4Q94,117.6 95.5,118.4L107.5,121L110.4,120.2Q112.3,130 112,138Q112.6,146 112.3,151.2Q110.5,156.5 107.5,158.7Q101,161.3 95,161.3Q86,160.5 81.3,157.5Q79.6,155 80,152.5Q80.8,147 82.5,142.5Q82.8,134 83.8,127.5Q85,121 89.2,118Z" stroke-width="1.3"/>
<!-- dot -->
<circle cx="93.5" cy="103.8" r="2.4" stroke-width="1.1"/>
<circle cx="93.5" cy="103.8" r="1.3" fill="#000" stroke="none"/>
<!-- bolt -->
<circle cx="67.7" cy="156.6" r="4.6" stroke-width="1.1"/>
<circle cx="67.7" cy="156.6" r="3" stroke-width="0.9"/>
<circle cx="67.7" cy="156.6" r="1.5" fill="#000" stroke="none"/>
<!-- fins -->
<path d="M70,121.5L81.5,116.5M68.2,127.8L78,123.5M66.8,133.6L77,129.2M66.4,139.8L76.3,135.5M66.8,145.3L75.8,141.5M68.2,150.2L75.5,147" stroke-width="4.3" stroke-linecap="round"/>
<path d="M70,121.5L81.5,116.5M68.2,127.8L78,123.5M66.8,133.6L77,129.2M66.4,139.8L76.3,135.5M66.8,145.3L75.8,141.5M68.2,150.2L75.5,147" stroke="#fff" stroke-width="1.9" stroke-linecap="round"/>
<path d="M82.6,116Q79.5,128 77.6,136Q76.2,144 75.3,150.5" stroke-width="1.1"/>
<!-- bracket -->
<circle cx="113" cy="162.5" r="1.9" stroke-width="1"/>
<path d="M113.4,164.8Q111.3,166.5 111.4,170Q111.5,172.5 113.5,172.9H123.6M114.8,170.5H123.6" stroke-width="1.1"/>
<path d="M114.5,171.7H123.4" stroke="#777" stroke-width="1.3"/>
</g>
<use href="#shA" transform="translate(306.25,-1.3) scale(-1,1)"/>
<!-- G caliper -->
<g id="calG" fill="none" stroke="#000" stroke-linejoin="round" stroke-linecap="round">
<!-- outline -->
<path d="M45.5,309.8L65.8,298.1Q69.6,296.2 74.5,297.1L93.5,308.7Q98,311 101.1,315L110.3,326.5Q115,334 118,343.9Q121.5,354 122.4,365Q122.5,372 121.8,378.5Q120.5,390 117.7,400Q115,410 112.7,415Q110,421 107,424.5L90,430.2L83.2,434.5L75.8,431.5L68.5,427.2Q62,422 59.8,419.8L56.2,411.8L50,406.2L49.5,403.5L49.2,397.1L46.9,393.1L43.5,391.3L42.8,375L43.2,345L43.6,318Q43.6,312 45.5,309.8Z" fill="#fff" stroke-width="1.35"/>
<!-- top-left boss -->
<path d="M45.75,313.3L62.8,305.2L64.6,304.3M50.1,312.1L58.7,316.4L64.6,304.3M64.6,304.3Q66,303.5 67.5,304L79,310.5Q81,311.8 81.1,317.3L81.4,330M60,301.7L67.5,300.6L81.4,309.2L87.2,315M58.7,316.4L58.7,324.2M49.5,314.4Q48.9,318.5 51.2,321.4L58.7,324.2M50.7,321L50.7,327.5M62.9,319.9L77.9,311.3M65.2,320.8L79,313M66.9,323.7L80.2,316.7M73.8,323.7V330M59.5,321.5L65.2,320.8L66.9,323.7" stroke-width="1.05"/>
<path d="M43.7,333.4L55.4,338.9L58,340.5M58.5,325.4L57.2,333.4L56.6,338.9M44.9,334L46.2,342.6L47,348" stroke-width="1.05"/>
<ellipse cx="55" cy="343" rx="1.4" ry="1.9" stroke-width="1"/>
<ellipse cx="55.6" cy="318.5" rx="1.7" ry="2.6" transform="rotate(-30 55.6 318.5)" stroke-width="1.05"/>
<!-- bleed screw -->
<path d="M46.2,305.5L48.6,309.2L51.2,307.6L49.6,303.8Z" fill="#fff" stroke-width="1.1"/>
<ellipse cx="48.6" cy="305.2" rx="2.4" ry="1.6" transform="rotate(-35 48.6 305.2)" fill="#fff" stroke-width="1.1"/>
<ellipse cx="46.6" cy="302.2" rx="2.3" ry="1.5" transform="rotate(-35 46.6 302.2)" fill="#fff" stroke-width="1.1"/>
<ellipse cx="41.9" cy="302.3" rx="2.1" ry="1.5" transform="rotate(-25 41.9 302.3)" fill="#fff" stroke-width="1.1"/>
<ellipse cx="44.6" cy="297.4" rx="2.5" ry="1.8" transform="rotate(-35 44.6 297.4)" fill="#fff" stroke-width="1.15"/>
<ellipse cx="45.2" cy="299.6" rx="2.2" ry="1.3" transform="rotate(-35 45.2 299.6)" fill="#fff" stroke-width="1.05"/>
<!-- rim + bridge lines -->
<path d="M93.5,308.7L109.2,334L103.7,336.6L102.2,335.2M87.2,315L103.4,335.2L102.2,340L103.4,357.3L105.1,364.2L106.3,373.1L105.6,387.2L104.3,400M83.2,315L90.7,345M91.8,325.4L94.7,335.8M80.3,315L80.9,329.4L79.2,332.3L85.5,338L89.5,345M78,341.5L84.9,339.8" stroke-width="1.05"/>
<!-- small bleed screw 2 -->
<path d="M95.8,344.5Q95.8,348.3 98.5,348.3L101.5,348.2" stroke-width="1.05"/>
<ellipse cx="97" cy="343.2" rx="2.3" ry="1.4" transform="rotate(-30 97 343.2)" fill="#fff" stroke-width="1.1"/>
<ellipse cx="93.8" cy="341.1" rx="1.9" ry="1.3" transform="rotate(-30 93.8 341.1)" fill="#fff" stroke-width="1.1"/>
<ellipse cx="97.9" cy="341" rx="2.1" ry="1.4" transform="rotate(-30 97.9 341)" fill="#fff" stroke-width="1.1"/>
<ellipse cx="95.9" cy="337" rx="2" ry="1.5" transform="rotate(-35 95.9 337)" fill="#fff" stroke-width="1.1"/>
<!-- bridge middle -->
<path d="M56.5,340.2L62,338Q70,336.5 79,339L83.5,342M79.3,344.8L85.8,342.7" stroke-width="1.05"/>
<path d="M86.7,340V356.7M82,351.5V357.3M92.4,347.5Q90,352 90.1,358.5Q91,361.5 95.3,362.5L104,363.7M101,350.4Q97.6,355 97.6,359.6Q98,363 99.9,364.2M78,342.9L84.9,340M80.3,348.7L84.9,346.3" stroke-width="1.05"/>
<path d="M95.5,365L96.9,381.2L94.8,400M97.5,365L99.5,381.8L97.5,400M91.5,366.3Q90,370 90.5,376.4Q92,381 96.2,381.5M105.6,371.7Q101.5,375.5 101.2,380.5Q101.8,384.5 105.6,385.2M104.3,396Q101,398 100.5,400" stroke-width="1.05"/>
<rect x="85" y="346" width="1.6" height="10.5" fill="#888" stroke="none"/>
<path d="M72.6,366.2Q73,363.5 74.7,362.5L81,358.8Q83,358.6 85.3,359.3L92.7,365.1L91.1,370.4V378.9L93.7,383.1L92.7,387.3L88.5,392.6L82.1,389.4L74.7,386.8L72,384.2L72.6,379.9V366.2" stroke-width="1.15"/>
<path d="M72.6,369.3L76.8,367.8L81.6,370.4V374.6L72.6,380.4M72.6,369.6L77.4,372.2L81.6,370.4M77.4,372.2V376.8M62,394.7L74.7,387.3M87.4,394.7L82.1,389.4" stroke-width="1.05"/>
<!-- left inner edge -->
<path d="M47,338Q48,343 47.7,347.6L46.4,373.1Q48,370 50.4,368.8Q53,368 55.2,368.3Q59,369 62,371.7" stroke-width="1.05"/>
<path d="M52.1,344.2L52,355L54.2,355.9L63.2,361.7M57.9,344.8L62,346M63.8,363.3V372.8" stroke-width="1.05"/>
<ellipse cx="54.2" cy="363.8" rx="1.6" ry="2.5" transform="rotate(-25 54.2 363.8)" stroke-width="1.05"/>
<!-- bores -->
<g>
<ellipse cx="65.8" cy="332.3" rx="6.6" ry="9.8" transform="rotate(30 65.8 332.3)" stroke-width="1.1"/>
<ellipse cx="66.4" cy="332.0" rx="4.8" ry="7.3" transform="rotate(30 66.4 332.0)" stroke-width="0.9"/>
<ellipse cx="66.2" cy="332.4" rx="3.6" ry="5.5" transform="rotate(30 66.2 332.4)" stroke-width="0.9"/>
<ellipse cx="69.5" cy="353.3" rx="6.9" ry="10.3" transform="rotate(30 69.5 353.3)" stroke-width="1.1"/>
<ellipse cx="71.0" cy="353.0" rx="4.8" ry="7.2" transform="rotate(30 71.0 353.0)" stroke-width="0.9"/>
<ellipse cx="70.7" cy="353.5" rx="3.4" ry="5.4" transform="rotate(30 70.7 353.5)" stroke-width="0.9"/>
<ellipse cx="64.5" cy="381.0" rx="6.0" ry="9.2" transform="rotate(30 64.5 381.0)" stroke-width="1.1"/>
<ellipse cx="65.6" cy="380.8" rx="4.3" ry="6.8" transform="rotate(30 65.6 380.8)" stroke-width="0.9"/>
<ellipse cx="65.4" cy="381.2" rx="3.1" ry="5.0" transform="rotate(30 65.4 381.2)" stroke-width="0.9"/>
</g>
<!-- left boss lower -->
<path d="M51,386.2Q50,392 51.5,396L55,398.8M55,387.9Q56.3,392 55.6,397.7M57.3,385L57.9,398.3" stroke-width="1.05"/>
<!-- lower tab -->
<path d="M50.4,400L55,398.8L63.1,401.7L59.6,403.5L50.4,400M59.6,403.5L57.9,406.9Q62,405.2 67.1,405.2L80,401.2M63.1,401.7L66.8,405.2M63.1,401.7L80,393.7M59,398.8L63.1,394.2Q67,391.5 72.3,389.6L80,386.7M61.4,396.5Q66,393.5 72.5,391" stroke-width="1.05"/>
<ellipse cx="55.9" cy="406.6" rx="1.7" ry="2.6" transform="rotate(-30 55.9 406.6)" stroke-width="1.05"/>
<path d="M70,406.3L65.4,415M77.5,406.3L73.5,415M56.2,411.8L64.8,416.4L67.8,421V425.9M65.4,414.8L70.3,406.2M69.1,422.2L77.7,406.2M68.5,426.5L79.5,430.8M70.3,428.4L79,432" stroke-width="1.05"/>
<!-- lower right -->
<path d="M70,398.9L81.2,393.7L85,392M70,403.2L76,401.5L84.7,406.3L91.6,408.9L98.5,412.8L102.9,413.6M76.9,406.7L70,420.5M79.5,410.6L83,407.6L88.2,411L86.5,413.5L79.5,412.3ZM85.6,392L86,405.8M87.3,398.9Q90,400.5 90.3,405L88.2,420.5M83,411.9V426.6L80.4,430.9M85.6,416.2L86.4,430M96,419.7Q95,426.5 87.3,430M94.2,392V404.1L98.5,411.9M96.8,392L96,407.6M104.6,398Q98,403 98.5,412.8M104.6,392L103.7,413.6L102.9,424.9M95.1,412.8Q94.2,417 96.8,418L102.9,418.8M70.9,428.3L81,433" stroke-width="1.05"/>
</g>
<use href="#calG" transform="translate(265.2,0.5) scale(-1,1)"/>

</svg>
</body></html>
